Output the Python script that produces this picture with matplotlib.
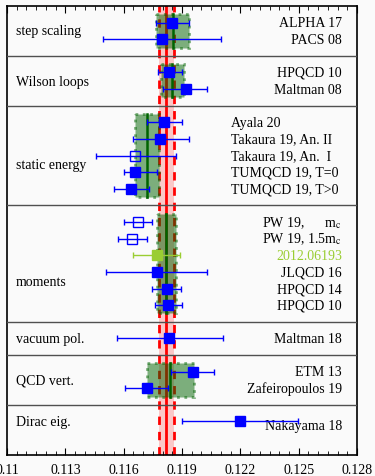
import matplotlib
matplotlib.use('Agg')
import matplotlib.pyplot as plt
from matplotlib.patches import Rectangle

plt.rcParams['font.family'] = ['Liberation Serif', 'DejaVu Serif']
plt.rcParams['mathtext.fontset'] = 'stix'

# results, top to bottom
names = ['ALPHA 17', 'PACS 08',
         'HPQCD 10', 'Maltman 08',
         'Ayala 20', 'Takaura 19, An. II', 'Takaura 19, An.  I',
         'TUMQCD 19, T=0', 'TUMQCD 19, T>0',
         'PW 19,      m$_{\\rm c}$', 'PW 19, 1.5m$_{\\rm c}$', '2012.06193',
         'JLQCD 16', 'HPQCD 14', 'HPQCD 10',
         'Maltman 18',
         'ETM 13', 'Zafeiropoulos 19',
         'Nakayama 18']
alpha_s = [0.11849, 0.11797,
           0.11835, 0.11919,
           0.11807, 0.11787, 0.11658, 0.11658, 0.11638,
           0.11675, 0.11645, 0.11770, 0.11770, 0.11821, 0.11826,
           0.11835,
           0.11958, 0.11718,
           0.12198]
err_lo = [0.00083, 0.00302,
          0.00057, 0.00115,
          0.00089, 0.00137, 0.00200, 0.00056, 0.00088,
          0.00072, 0.00073, 0.00124, 0.00262, 0.00075, 0.00065,
          0.00268,
          0.00115, 0.00111,
          0.00300]
err_hi = [0.00085, 0.00302,
          0.00067, 0.00108,
          0.00091, 0.00151, 0.00211, 0.00112, 0.00094,
          0.00072, 0.00073, 0.00120, 0.00260, 0.00074, 0.00072,
          0.00274,
          0.00108, 0.00112,
          0.00300]
open_marker = [False, False, False, False, False, False, True, False, False,
               True, True, False, False, False, False, False, False, False, False]

# categories
categories = ['step scaling', 'Wilson loops', 'static energy', 'moments',
              'vacuum pol.', 'QCD vert.', 'Dirac eig.']
cat_sizes = [2, 2, 5, 6, 1, 2, 1]
# category averages (None = no average)
cat_avg = [0.11852, 0.1185, 0.1172, 0.1182, None, 0.1184, None]
cat_err = [0.00084, 0.0006, 0.0006, 0.0005, None, 0.0012, None]

# overall average
avg = 0.1182
avg_err = 0.0004

xticks = [0.110, 0.113, 0.116, 0.119, 0.122, 0.125, 0.128]
xticklabels = ['0.11', '0.113', '0.116', '0.119', '0.122', '0.125', '0.128']

fig = plt.figure(figsize=(3.75, 4.77), dpi=100, facecolor='#fafafa')
ax = fig.add_axes([0.0187, 0.0447, 0.9333, 0.9406])
ax.set_facecolor('#fafafa')

# row positions
rows = []
starts = []
r = 1
for n in cat_sizes:
    starts.append(r)
    rows.extend(range(r, r + n))
    r += n + 1
ymax = r

ax.axvspan(avg - avg_err, avg + avg_err, color='#ff0000', alpha=0.2, lw=0, zorder=1)
ax.axvline(avg, color='red', lw=2, zorder=2)
for v in (avg - avg_err, avg + avg_err):
    ax.axvline(v, color='red', lw=2, ls=(0, (3, 2.5)), zorder=2)

for i, (cat, n) in enumerate(zip(categories, cat_sizes)):
    s = starts[i]
    if i > 0:
        ax.axhline(s - 1, color='#505050', lw=1, zorder=5)
    if cat_avg[i] is not None:
        box = Rectangle((cat_avg[i] - cat_err[i], s - 0.5), 2 * cat_err[i], n,
                        facecolor='darkgreen', alpha=0.5, edgecolor='darkgreen',
                        lw=2, ls=':', zorder=3)
        ax.add_patch(box)
        ax.plot([cat_avg[i], cat_avg[i]], [s - 0.5, s - 0.5 + n],
                color='darkgreen', lw=1.8, zorder=3.5)

label_y = [1.5, 4.55, 9.55, 16.55, 20, 22.5, 25]
for cat, y in zip(categories, label_y):
    ax.text(0.0257, y, cat, transform=ax.get_yaxis_transform(),
            ha='left', va='center', fontsize=10)

static_rows = set(range(starts[2], starts[2] + cat_sizes[2]))
for name, v, lo, hi, y, op in zip(names, alpha_s, err_lo, err_hi, rows, open_marker):
    col = '#9acd32' if name == '2012.06193' else 'blue'
    txt_col = '#9acd32' if name == '2012.06193' else 'black'
    ax.errorbar(v, y, xerr=[[lo], [hi]], fmt='s', color=col, ms=7 if not op else 6.5,
                mfc='none' if op else col, mec=col, mew=1, elinewidth=1,
                capsize=2.5, capthick=1, zorder=4)
    ty = y + 0.27 if name == 'Nakayama 18' else y
    if y in static_rows:
        ax.text(0.64, ty, name, transform=ax.get_yaxis_transform(),
                ha='left', va='center', fontsize=10, color=txt_col)
    else:
        ax.text(0.957, ty, name, transform=ax.get_yaxis_transform(),
                ha='right', va='center', fontsize=10, color=txt_col)

ax.set_xlim(0.110, 0.128)
ax.set_ylim(ymax, 0)
ax.set_yticks([])
ax.set_xticks(xticks)
ax.set_xticklabels(xticklabels, fontsize=10)
ax.set_xticks([0.110 + 0.0005 * k for k in range(37)], minor=True)
ax.tick_params(axis='x', which='both', direction='in', top=True, pad=6)
ax.tick_params(axis='x', which='major', length=5)
ax.tick_params(axis='x', which='minor', length=3)
for sp in ax.spines.values():
    sp.set_linewidth(1.2)

fig.savefig('out.png', dpi=100, facecolor=fig.get_facecolor())
